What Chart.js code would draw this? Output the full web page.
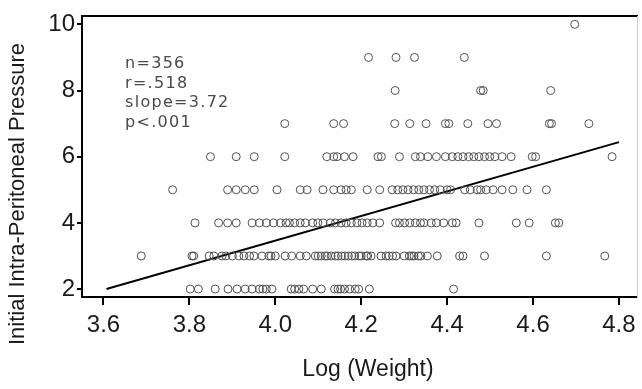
<!DOCTYPE html>
<html>
<head>
<meta charset="utf-8">
<script src="https://cdn.jsdelivr.net/npm/chart.js@4/dist/chart.umd.min.js"></script>
<style>
  html, body { margin: 0; padding: 0; background: #fff; }
  canvas { display: block; }
</style>
</head>
<body>
<canvas id="chart" width="642" height="389"></canvas>
<script>
// log(weight) values, one list per pressure level
const press2 = [3.802, 3.821, 3.860, 3.890, 3.911, 3.930, 3.946, 3.963, 3.971, 3.979, 3.992,
  4.037, 4.045, 4.055, 4.066, 4.087, 4.107, 4.138, 4.146, 4.152, 4.161, 4.173, 4.186, 4.194, 4.219, 4.415];
const press3 = [3.688, 3.806, 3.810, 3.846, 3.857, 3.876, 3.885, 3.900, 3.915, 3.927, 3.940, 3.950,
  3.969, 3.985, 3.990, 4.000, 4.023, 4.038, 4.058, 4.072, 4.093, 4.100, 4.107, 4.116, 4.121, 4.130,
  4.140, 4.146, 4.154, 4.162, 4.170, 4.178, 4.185, 4.195, 4.200, 4.212, 4.215, 4.223, 4.246, 4.258,
  4.265, 4.273, 4.281, 4.300, 4.312, 4.318, 4.323, 4.333, 4.339, 4.354, 4.377, 4.429, 4.437, 4.487,
  4.631, 4.767];
const press4 = [3.813, 3.868, 3.889, 3.909, 3.946, 3.963, 3.979, 3.996, 4.012, 4.025, 4.033, 4.045,
  4.058, 4.070, 4.087, 4.099, 4.111, 4.128, 4.140, 4.153, 4.165, 4.177, 4.190, 4.202, 4.214, 4.227,
  4.243, 4.280, 4.289, 4.301, 4.313, 4.326, 4.338, 4.346, 4.363, 4.375, 4.392, 4.412, 4.421, 4.474,
  4.561, 4.591, 4.652, 4.660];
const press5 = [3.761, 3.889, 3.909, 3.930, 3.951, 4.004, 4.058, 4.074, 4.111, 4.136, 4.153, 4.165,
  4.177, 4.214, 4.243, 4.272, 4.285, 4.297, 4.309, 4.322, 4.334, 4.346, 4.359, 4.371, 4.384, 4.400,
  4.408, 4.441, 4.454, 4.470, 4.478, 4.491, 4.507, 4.528, 4.553, 4.586, 4.631];
const press6 = [3.849, 3.909, 3.951, 4.022, 4.120, 4.136, 4.144, 4.161, 4.181, 4.239, 4.247, 4.289,
  4.326, 4.338, 4.355, 4.375, 4.396, 4.412, 4.425, 4.437, 4.450, 4.462, 4.474, 4.487, 4.499, 4.511,
  4.528, 4.549, 4.598, 4.606, 4.784];
const press7 = [4.022, 4.136, 4.159, 4.278, 4.313, 4.351, 4.396, 4.404, 4.448, 4.495, 4.515, 4.638,
  4.643, 4.730];
const press8 = [4.279, 4.478, 4.484, 4.641];
const press9 = [4.217, 4.281, 4.324, 4.440];
const press10 = [4.697];

const levels = [2, 3, 4, 5, 6, 7, 8, 9, 10];
const rows = [press2, press3, press4, press5, press6, press7, press8, press9, press10];

// regression line end points
const fitX = [3.607, 4.80];
const fitY = [2.0, 6.44];

const xTicks = [3.6, 3.8, 4.0, 4.2, 4.4, 4.6, 4.8];
const yTicks = [2, 4, 6, 8, 10];

const xTitle = "Log (Weight)";
const yTitle = "Initial Intra-Peritoneal Pressure";
const statLines = ["n=356", "r=.518", "slope=3.72", "p<.001"];

const points = [];
rows.forEach((row, i) => {
  row.forEach(x => points.push({ x: x, y: levels[i] }));
});
const fitPts = fitX.map((x, i) => ({ x: x, y: fitY[i] }));

const X_MIN = 3.55, X_MAX = 4.842, Y_MIN = 1.76, Y_MAX = 10.24;
const axisFont = { family: "Liberation Sans, Arial, sans-serif", size: 24 };

// titles and the stats box
const textPlugin = {
  id: "texts",
  afterDraw(chart) {
    const c = chart.ctx;
    c.save();
    c.fillStyle = "#1a1a1a";
    c.font = '23px "Liberation Sans", Arial, sans-serif';
    c.textAlign = "center";
    c.textBaseline = "middle";
    c.fillText(xTitle, 368, 370);
    c.save();
    c.translate(18, 194);
    c.rotate(-Math.PI / 2);
    c.font = '22px "Liberation Sans", Arial, sans-serif';
    c.fillText(yTitle, 0, 0);
    c.restore();

    c.font = '16px "DejaVu Sans", sans-serif';
    c.fillStyle = "#4a4a4a";
    c.textAlign = "left";
    c.textBaseline = "alphabetic";
    try { c.letterSpacing = "1.3px"; } catch (e) {}
    statLines.forEach((s, i) => c.fillText(s, 125, 68 + i * 19.6));
    c.restore();
  }
};

new Chart(document.getElementById("chart"), {
  type: "scatter",
  data: {
    datasets: [
      {
        data: points,
        pointStyle: "circle",
        pointRadius: 4,
        pointBorderWidth: 1,
        borderColor: "#505050",
        backgroundColor: "rgba(0,0,0,0)",
        xAxisID: "x",
        yAxisID: "y"
      },
      {
        type: "line",
        data: fitPts,
        borderColor: "#000",
        borderWidth: 2,
        pointRadius: 0,
        fill: false,
        xAxisID: "x",
        yAxisID: "y"
      }
    ]
  },
  options: {
    responsive: false,
    animation: false,
    events: [],
    layout: { padding: 0 },
    plugins: { legend: { display: false }, tooltip: { enabled: false } },
    scales: {
      x: {
        type: "linear",
        position: "bottom",
        min: X_MIN,
        max: X_MAX,
        afterBuildTicks: s => { s.ticks = xTicks.map(v => ({ value: v })); },
        afterFit: s => { s.height = 92; },
        grid: { display: true, drawOnChartArea: false, drawTicks: true, tickLength: 8, color: "#000", lineWidth: 2 },
        border: { display: true, color: "#000", width: 2 },
        ticks: { font: axisFont, color: "#1a1a1a", padding: 6, maxRotation: 0, callback: v => Number(v).toFixed(1) }
      },
      x2: {
        type: "linear",
        position: "top",
        min: X_MIN,
        max: X_MAX,
        afterFit: s => { s.height = 12; },
        grid: { display: false },
        border: { display: true, color: "#000", width: 2 },
        ticks: { display: false }
      },
      y: {
        type: "linear",
        position: "left",
        min: Y_MIN,
        max: Y_MAX,
        afterBuildTicks: s => { s.ticks = yTicks.map(v => ({ value: v })); },
        afterFit: s => { s.width = 82; },
        grid: { display: true, drawOnChartArea: false, drawTicks: true, tickLength: 5, color: "#000", lineWidth: 2 },
        border: { display: true, color: "#000", width: 2 },
        ticks: { font: axisFont, color: "#1a1a1a", padding: 2 }
      },
      y2: {
        type: "linear",
        position: "right",
        min: Y_MIN,
        max: Y_MAX,
        afterFit: s => { s.width = 2; },
        grid: { display: false },
        border: { display: true, color: "#ccc", width: 1 },
        ticks: { display: false }
      }
    }
  },
  plugins: [textPlugin]
});
</script>
</body>
</html>
